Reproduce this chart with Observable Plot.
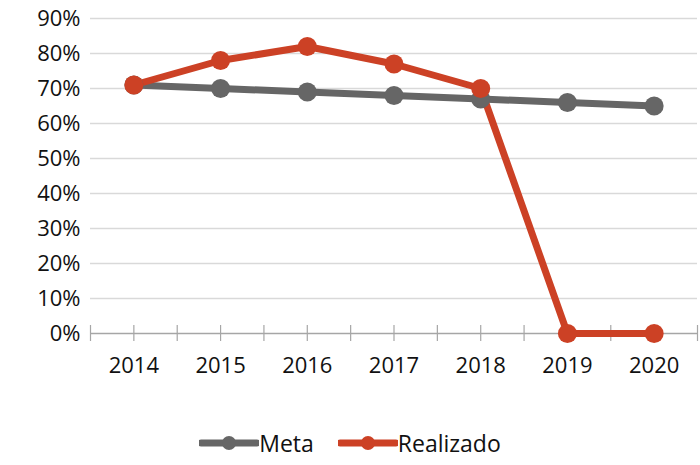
<!DOCTYPE html>
<html>
<head>
<meta charset="utf-8">
<script src="https://cdn.jsdelivr.net/npm/d3@7"></script>
<script src="https://cdn.jsdelivr.net/npm/@observablehq/plot@0.6"></script>
<style>
  body { margin: 0; background: #fff; font-family: "Open Sans", sans-serif; }
  #legend { height: 45px; padding-top: 20px; display: flex; justify-content: center; align-items: center; gap: 24px; font-size: 23px; color: #111; }
  .item { display: flex; align-items: center; }
  .item svg { display: block; }
</style>
</head>
<body>
<div id="chart"></div>
<div id="legend"></div>
<script>
const years = [2014, 2015, 2016, 2017, 2018, 2019, 2020];
const meta = [0.71, 0.70, 0.69, 0.68, 0.67, 0.66, 0.65];
const realizado = [0.71, 0.78, 0.82, 0.77, 0.70, 0, 0];
const yTicks = [0, 0.1, 0.2, 0.3, 0.4, 0.5, 0.6, 0.7, 0.8, 0.9];
const seriesNames = ["Meta", "Realizado"];
const seriesColors = ["#666666", "#CC4125"];

const rows = [];
years.forEach((yr, i) => {
  rows.push({year: yr, value: meta[i], series: "Meta"});
});
years.forEach((yr, i) => {
  rows.push({year: yr, value: realizado[i], series: "Realizado"});
});
const halfSteps = d3.range(years[0] - 0.5, years[years.length - 1] + 0.51, 0.5);

const chart = Plot.plot({
  width: 700,
  height: 400,
  marginLeft: 90,
  marginRight: 3,
  marginTop: 18,
  marginBottom: 67,
  style: {fontFamily: "Open Sans, sans-serif", color: "#111", background: "#fff"},
  x: {type: "linear", domain: [years[0] - 0.5, years[years.length - 1] + 0.5], label: null},
  y: {domain: [0, 0.9], label: null},
  color: {domain: seriesNames, range: seriesColors},
  marks: [
    Plot.ruleY(yTicks.slice(1), {stroke: "#d9d9d9", strokeWidth: 1.5}),
    Plot.ruleY([0], {stroke: "#a6a6a6", strokeWidth: 1.5}),
    Plot.axisX({ticks: halfSteps, tickSize: 16, dy: -8, tickFormat: () => "", stroke: "#a6a6a6", strokeWidth: 1.2, label: null}),
    Plot.axisX({ticks: years, tickSize: 0, tickPadding: 24, tickFormat: "d", fontSize: 22, fill: "#111", label: null}),
    Plot.axisY({ticks: yTicks, tickSize: 0, tickPadding: 10, tickFormat: d3.format(".0%"), fontSize: 22, fill: "#111", label: null}),
    Plot.line(rows, {x: "year", y: "value", z: "series", stroke: "series", strokeWidth: 7, strokeLinejoin: "round", strokeLinecap: "round"}),
    Plot.dot(rows, {x: "year", y: "value", fill: "series", r: 9.5, stroke: null})
  ]
});
document.getElementById("chart").appendChild(chart);

const legend = document.getElementById("legend");
seriesNames.forEach((name, i) => {
  const item = document.createElement("div");
  item.className = "item";
  item.innerHTML = `<svg width="60" height="24"><line x1="2" y1="12" x2="58" y2="12" stroke="${seriesColors[i]}" stroke-width="7" stroke-linecap="round"/><circle cx="30" cy="12" r="7" fill="${seriesColors[i]}"/></svg><span>${name}</span>`;
  legend.appendChild(item);
});
</script>
</body>
</html>
